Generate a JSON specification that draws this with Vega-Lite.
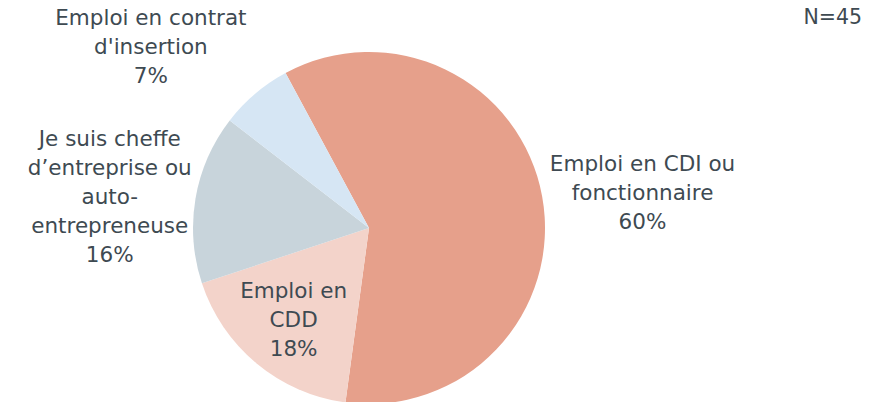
{
  "$schema": "https://vega.github.io/schema/vega-lite/v6.json",
  "width": 738,
  "height": 348,
  "autosize": "none",
  "padding": {"left": 0, "top": 54, "right": 142, "bottom": 0},
  "background": "white",
  "title": {
    "text": "N=45",
    "anchor": "end",
    "orient": "top",
    "frame": "group",
    "dx": 124,
    "dy": 56,
    "offset": 0,
    "font": "DejaVu Sans",
    "fontSize": 20.5,
    "fontWeight": "normal",
    "color": "#3E4A52",
    "baseline": "top"
  },
  "data": {
    "values": [
      {"categorie": "CDI", "effectif": 27, "rang": 1, "label": "Emploi en CDI ou\nfonctionnaire\n60%"},
      {"categorie": "CDD", "effectif": 8, "rang": 2, "label": "Emploi en\nCDD\n18%"},
      {"categorie": "Cheffe", "effectif": 7, "rang": 3, "label": "Je suis cheffe\nd’entreprise ou\nauto-\nentrepreneuse\n16%"},
      {"categorie": "Insertion", "effectif": 3, "rang": 4, "label": "Emploi en contrat\nd'insertion\n7%"}
    ]
  },
  "encoding": {
    "theta": {"field": "effectif", "type": "quantitative", "stack": true, "scale": {"range": [-0.494, 5.789]}},
    "order": {"field": "rang", "type": "quantitative"}
  },
  "layer": [
    {
      "mark": {"type": "arc", "outerRadius": 176, "stroke": null},
      "encoding": {
        "color": {
          "field": "categorie",
          "type": "nominal",
          "scale": {"domain": ["CDI", "CDD", "Cheffe", "Insertion"], "range": ["#E6A08B", "#F3D3CA", "#C8D4DB", "#D6E6F4"]},
          "legend": null
        }
      }
    },
    {
      "mark": {"type": "text", "radius": 278, "dy": -13, "align": "center", "baseline": "middle", "lineBreak": "\n", "lineHeight": 29, "font": "DejaVu Sans", "fontSize": 21.5, "color": "#3E4A52"},
      "encoding": {"text": {"condition": {"test": "datum.categorie === 'CDI'", "field": "label"}, "value": ""}}
    },
    {
      "mark": {"type": "text", "radius": 118, "dy": -27, "align": "center", "baseline": "middle", "lineBreak": "\n", "lineHeight": 29, "font": "DejaVu Sans", "fontSize": 21.5, "color": "#3E4A52"},
      "encoding": {"text": {"condition": {"test": "datum.categorie === 'CDD'", "field": "label"}, "value": ""}}
    },
    {
      "mark": {"type": "text", "radius": 263, "dy": -44, "align": "center", "baseline": "middle", "lineBreak": "\n", "lineHeight": 29, "font": "DejaVu Sans", "fontSize": 21.5, "color": "#3E4A52"},
      "encoding": {"text": {"condition": {"test": "datum.categorie === 'Cheffe'", "field": "label"}, "value": ""}}
    },
    {
      "mark": {"type": "text", "radius": 283, "dx": -35, "dy": 7, "align": "center", "baseline": "middle", "lineBreak": "\n", "lineHeight": 29, "font": "DejaVu Sans", "fontSize": 21.5, "color": "#3E4A52"},
      "encoding": {"text": {"condition": {"test": "datum.categorie === 'Insertion'", "field": "label"}, "value": ""}}
    }
  ]
}
